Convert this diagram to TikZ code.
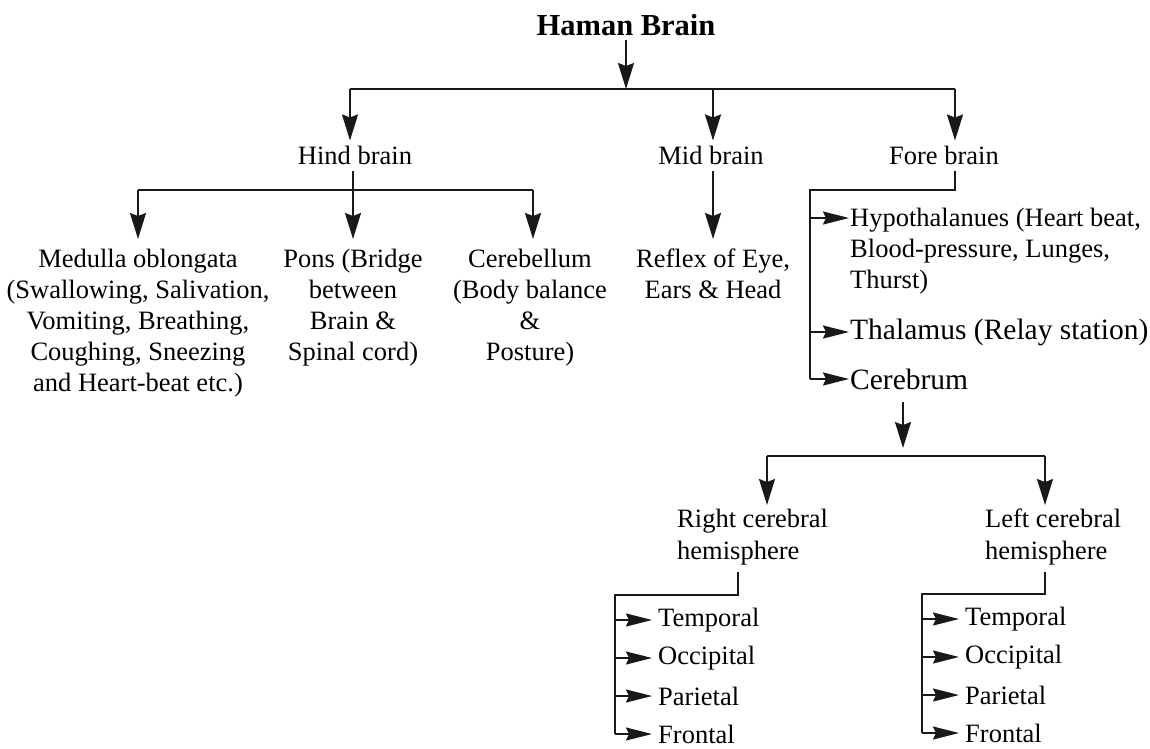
\documentclass[tikz,border=0pt]{standalone}
\usepackage{fontspec}
\setmainfont{Liberation Serif}
\usetikzlibrary{arrows.meta}
\tikzset{
  lbl/.style={inner sep=0pt, font=\fontsize{26.5}{31}\selectfont, text=black},
  hemi/.style={inner sep=0pt, font=\fontsize{26.5}{32}\selectfont, text=black},
  biglbl/.style={inner sep=0pt, font=\fontsize{29.5}{32}\selectfont, text=black},
  ln/.style={line width=1.7pt, draw=black!90},
  arr/.style={ln, -{Stealth[length=26pt,width=16pt,inset=3pt]}},
  harr/.style={ln, -{Stealth[length=26pt,width=13pt,inset=3pt]}}
}
\begin{document}
\begin{tikzpicture}[x=1pt,y=-1pt]
\path[use as bounding box, fill=white] (0,0) rectangle (1150,748);
% title
\node[inner sep=0pt, font=\bfseries\fontsize{30.5}{34}\selectfont] (title) at (626,25) {Haman Brain};
\coordinate (j1) at (626,89);
\node[lbl] (hind) at (355,155) {Hind brain};
\node[lbl] (mid) at (711,155) {Mid brain};
\node[lbl] (fore) at (944,155) {Fore brain};
\draw[arr, shorten <=4pt] (title.south) -- (j1);
\coordinate (hA) at (350,89);
\coordinate (mA0) at (713,89);
\coordinate (fA) at (955,89);
\draw[ln] (hA) -- (fA);
\draw[arr, shorten >=5pt] (hA) -- (hA |- hind.north);
\draw[arr, shorten >=5pt] (mA0) -- (mA0 |- mid.north);
\draw[arr, shorten >=5pt] (fA) -- (fA |- fore.north);
% hind brain children
\coordinate (j2) at (353,190);
\coordinate (mA) at (138,190);
\coordinate (cA) at (533,190);
\node[lbl, align=center, anchor=north] (med) at (138,249) {Medulla oblongata\\(Swallowing, Salivation,\\Vomiting, Breathing,\\Coughing, Sneezing\\and Heart-beat etc.)};
\node[lbl, align=center, anchor=north] (pons) at (353,249) {Pons (Bridge\\between\\Brain \&\\Spinal cord)};
\node[lbl, align=center, anchor=north] (cereb) at (530,249) {Cerebellum\\(Body balance\\\&\\Posture)};
\draw[ln, shorten <=6pt] (hind.south -| j2) -- (j2);
\draw[ln] (mA) -- (cA);
\draw[arr, shorten >=10pt] (j2) -- (pons.north);
\draw[arr, shorten >=10pt] (mA) -- (mA |- med.north);
\draw[arr, shorten >=10pt] (cA) -- (cA |- cereb.north);
% mid brain
\node[lbl, align=center, anchor=north] (reflex) at (713,249) {Reflex of Eye,\\Ears \& Head};
\draw[arr, shorten <=6pt, shorten >=10pt] (mid.south -| mA0) -- (reflex.north);
% fore brain
\coordinate (j3) at (810,190);
\node[lbl, align=left, anchor=north west] (hypo) at (850,208) {Hypothalanues (Heart beat,\\Blood-pressure, Lunges,\\Thurst)};
\node[biglbl, anchor=west] (thal) at (850,332) {Thalamus (Relay station)};
\node[biglbl, anchor=west] (cerebrum) at (850,379) {Cerebrum};
\coordinate (fh) at (810,218);
\draw[ln, shorten <=6pt] (fore.south -| fA) -- (fA |- j3) -- (j3) -- (j3 |- cerebrum);
\draw[harr, shorten >=1pt] (fh) -- (fh -| hypo.west);
\draw[harr, shorten >=1pt] (j3 |- thal) -- (thal.west);
\draw[harr, shorten >=1pt] (j3 |- cerebrum) -- (cerebrum.west);
% cerebrum children
\coordinate (j4) at (903,456);
\coordinate (rA) at (767,456);
\coordinate (lA) at (1045,456);
\node[hemi, align=left, anchor=north west] (rch) at (677,509) {Right cerebral\\hemisphere};
\node[hemi, align=left, anchor=north west] (lch) at (985,509) {Left cerebral\\hemisphere};
\draw[arr, shorten >=8pt] (903,402) coordinate (c0) (c0) -- (j4);
\draw[ln] (rA) -- (lA);
\draw[arr] (rA) -- (767,505);
\draw[arr] (lA) -- (1045,505);
% right hemisphere lobes
\node[lbl, anchor=west] (rt) at (658,620) {Temporal};
\node[lbl, anchor=west] (ro) at (658,658) {Occipital};
\node[lbl, anchor=west] (rp) at (658,696) {Parietal};
\node[lbl, anchor=west] (rf) at (658,734) {Frontal};
\coordinate (rj) at (615,595);
\draw[ln] (738,572) -- (738,595) -- (rj) -- (rj |- rf);
\foreach \n in {rt,ro,rp,rf} \draw[harr, shorten >=6pt] (rj |- \n) -- (\n.west);
% left hemisphere lobes
\node[lbl, anchor=west] (lt) at (965,619) {Temporal};
\node[lbl, anchor=west] (lo) at (965,657) {Occipital};
\node[lbl, anchor=west] (lp) at (965,695) {Parietal};
\node[lbl, anchor=west] (lf) at (965,733) {Frontal};
\coordinate (lj) at (922,594);
\draw[ln] (1045,572) -- (1045,594) -- (lj) -- (lj |- lf);
\foreach \n in {lt,lo,lp,lf} \draw[harr, shorten >=6pt] (lj |- \n) -- (\n.west);
\end{tikzpicture}
\end{document}
